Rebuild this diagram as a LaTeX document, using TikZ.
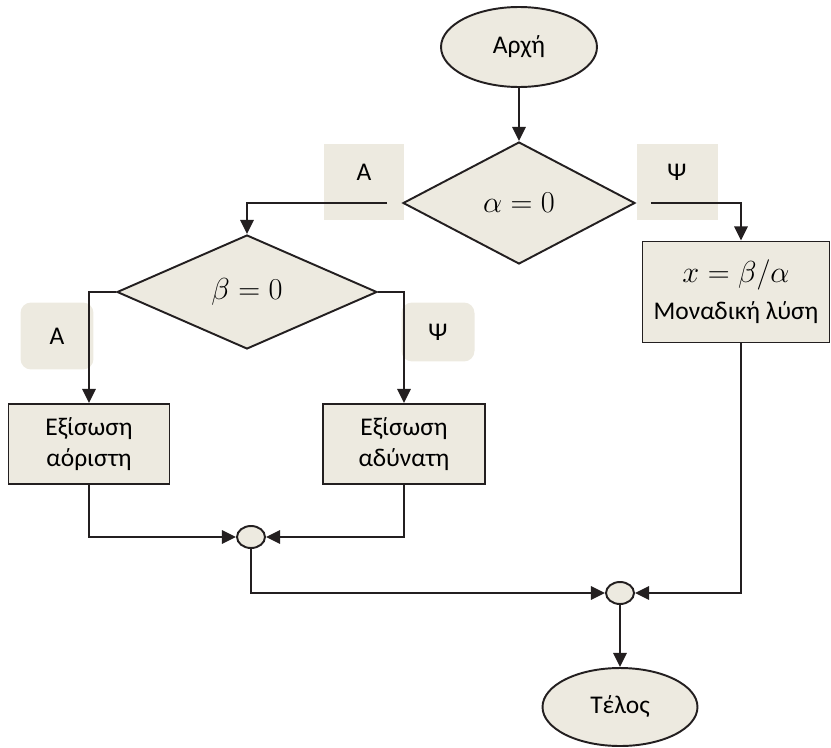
\documentclass[tikz,border=0pt]{standalone}
\usepackage{fontspec}
\setmainfont{Carlito}
\usepackage{xcolor}
\usepackage{tikz}
\usetikzlibrary{shapes,arrows,positioning,calc,arrows.meta}

\definecolor{boxfill}{HTML}{EDEAE0}
\definecolor{linecol}{HTML}{231F20}

\tikzset{
    term/.style={ellipse, draw=linecol, line width=1.1pt, fill=boxfill, inner sep=0pt,
        minimum width=3.12cm, minimum height=1.6cm, font=\fontsize{14.5}{17}\selectfont},
    test/.style={diamond, draw=linecol, line width=1.1pt, fill=boxfill, inner sep=0pt,
        font=\fontsize{16.5}{19}\selectfont},
    proc/.style={rectangle, draw=linecol, line width=1.1pt, fill=boxfill, align=center,
        minimum height=1.6cm, font=\fontsize{14.5}{21}\selectfont},
    junc/.style={ellipse, draw=linecol, line width=1.1pt, fill=boxfill, inner sep=0pt,
        minimum width=0.56cm, minimum height=0.44cm},
    tag/.style={rectangle, fill=boxfill, font=\fontsize{14.5}{17}\selectfont},
    flow/.style={draw=linecol, line width=1.5pt, -{Triangle[length=8pt,width=7.5pt]}},
}

\begin{document}
\begin{tikzpicture}[x=0.02cm, y=-0.02cm]
    \useasboundingbox (0,0) rectangle (831,747);

    % Answer tags (behind the lines)
    \node[tag, minimum width=1.62cm, minimum height=1.54cm] (ayes) at (364,182) {};
    \node at (364,172) {\fontsize{14.5}{17}\selectfont Α};
    \node[tag, minimum width=1.62cm, minimum height=1.54cm] (ano) at (677,182) {};
    \node at (677,172) {\fontsize{14.5}{17}\selectfont Ψ};
    \node[tag, rounded corners=6pt, minimum width=1.46cm, minimum height=1.34cm] (byes) at (57,336) {Α};
    \node[tag, rounded corners=6pt, minimum width=1.46cm, minimum height=1.18cm] (bno) at (438,332) {Ψ};

    % Start
    \node[term] (start) at (519,47) {Αρχή};

    % Tests
    \node[test, minimum width=4.64cm, minimum height=2.44cm] (alpha) at (519,203) {$\alpha = 0$};
    \node[test, minimum width=5.2cm, minimum height=2.28cm] (beta) at (247,292) {$\beta = 0$};

    % Results
    \node[proc, minimum width=3.74cm, minimum height=2.02cm] (sol) at (736,292)
        {{\fontsize{16.5}{19}\selectfont $x = \beta/\alpha$}\\ Μοναδική λύση};
    \node[proc, minimum width=3.22cm] (indef) at (89,444) {Εξίσωση\\[-3pt]αόριστη};
    \node[proc, minimum width=3.24cm] (imposs) at (404,444) {Εξίσωση\\[-3pt]αδύνατη};

    % Junctions
    \node[junc] (j1) at (251,537) {};
    \node[junc] (j2) at (620,593) {};

    % End
    \node[term, minimum width=3.1cm, minimum height=1.56cm] (end) at (620,707) {Τέλος};

    % Connectors
    \draw[flow] (start) -- (alpha);
    \draw[flow] ([xshift=-0.3cm]alpha.west) -| (beta.north);
    \draw[flow] ([xshift=0.3cm]alpha.east) -| ([xshift=0.1cm]sol.north);
    \draw[flow] (beta.west) -| (indef.north);
    \draw[flow] (beta.east) -| (imposs.north);
    \draw[flow] (indef.south) |- (j1.west);
    \draw[flow] (imposs.south) |- (j1.east);
    \draw[flow] (j1.south) |- (j2.west);
    \draw[flow] ([xshift=0.1cm]sol.south) |- (j2.east);
    \draw[flow] (j2) -- (end);
\end{tikzpicture}
\end{document}
